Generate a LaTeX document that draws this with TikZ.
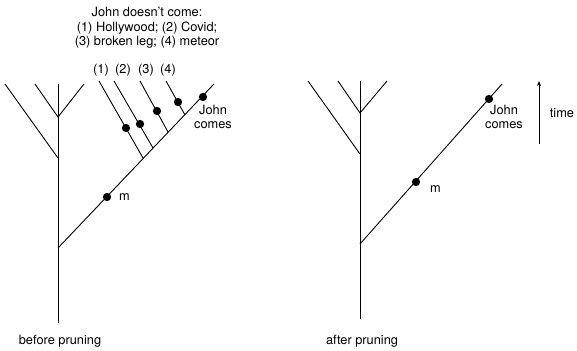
\documentclass[tikz,border=0pt]{standalone}
\usepackage{fontspec}
\setmainfont{TeX Gyre Heros}
\usetikzlibrary{arrows.meta}
\begin{document}
\begin{tikzpicture}[x=1pt,y=-1pt,
  ln/.style={line width=0.9pt},
  dot/.style={circle,fill=black,inner sep=0pt,minimum size=8.3pt},
  lbl/.style={font=\fontsize{12.8}{14.5}\selectfont,inner sep=0pt,align=center}]
\useasboundingbox (0,0) rectangle (577,350);
% ---------- left tree ----------
\coordinate (Ltop) at (58,84);
\coordinate (Lbot) at (58,323);
\coordinate (Lb1) at (58,158);
\coordinate (Lb1e) at (5,84);
\coordinate (Lv) at (58,117);
\coordinate (Lv1) at (35,84);
\coordinate (Lv2) at (84,84);
\coordinate (Ld) at (58,248);
\coordinate (Lde) at (214,84);
\draw[ln] (Lbot) -- (Ltop);
\draw[ln] (Lb1) -- (Lb1e);
\draw[ln] (Lv1) -- (Lv) -- (Lv2);
\draw[ln] (Ld) -- (Lde);
% sub-branches
\coordinate (s1a) at (99,81);  \coordinate (s1b) at (143,158);
\coordinate (s2a) at (114,81); \coordinate (s2b) at (153,148);
\coordinate (s3a) at (140,81); \coordinate (s3b) at (168,132);
\coordinate (s4a) at (166,81); \coordinate (s4b) at (185,115);
\draw[ln] (s1a) -- (s1b);
\draw[ln] (s2a) -- (s2b);
\draw[ln] (s3a) -- (s3b);
\draw[ln] (s4a) -- (s4b);
\node[dot] (d1) at (126,128) {};
\node[dot] (d2) at (140,124) {};
\node[dot] (d3) at (157,111) {};
\node[dot] (d4) at (178,102) {};
\node[dot] (Lm) at (107,197) {};
\node[dot] (Lj) at (203,97) {};
\node[lbl,anchor=west] (Lml) at (119,197) {m};
\node[lbl] (Ljl) at (213,117) {John\\comes};
\node[lbl] (l1) at (101,70) {(1)};
\node[lbl] (l2) at (123,70) {(2)};
\node[lbl] (l3) at (146,70) {(3)};
\node[lbl] (l4) at (168,70) {(4)};
\node[lbl] (title) at (147,28) {John doesn’t come:\\(1) Hollywood; (2) Covid;\\(3) broken leg; (4) meteor};
\node[lbl] (before) at (60,341) {before pruning};
% ---------- right tree ----------
\coordinate (Rtop) at (360,81);
\coordinate (Rbot) at (360,319);
\coordinate (Rb1) at (360,154);
\coordinate (Rb1e) at (308,81);
\coordinate (Rv) at (360,113);
\coordinate (Rv1) at (338,81);
\coordinate (Rv2) at (387,81);
\coordinate (Rd) at (360,244);
\coordinate (Rde) at (502,84);
\draw[ln] (Rbot) -- (Rtop);
\draw[ln] (Rb1) -- (Rb1e);
\draw[ln] (Rv1) -- (Rv) -- (Rv2);
\draw[ln] (Rd) -- (Rde);
\node[dot] (Rm) at (416,182) {};
\node[dot] (Rj) at (489,99) {};
\node[lbl,anchor=west] (Rml) at (430,189) {m};
\node[lbl] (Rjl) at (504,117) {John\\comes};
\node[lbl] (after) at (362,341) {after pruning};
% time arrow
\coordinate (t0) at (539,144);
\coordinate (t1) at (539,81);
\draw[ln,-{Stealth[length=5pt,width=4pt]}] (t0) -- (t1);
\node[lbl] (time) at (562,113) {time};
\end{tikzpicture}
\end{document}
